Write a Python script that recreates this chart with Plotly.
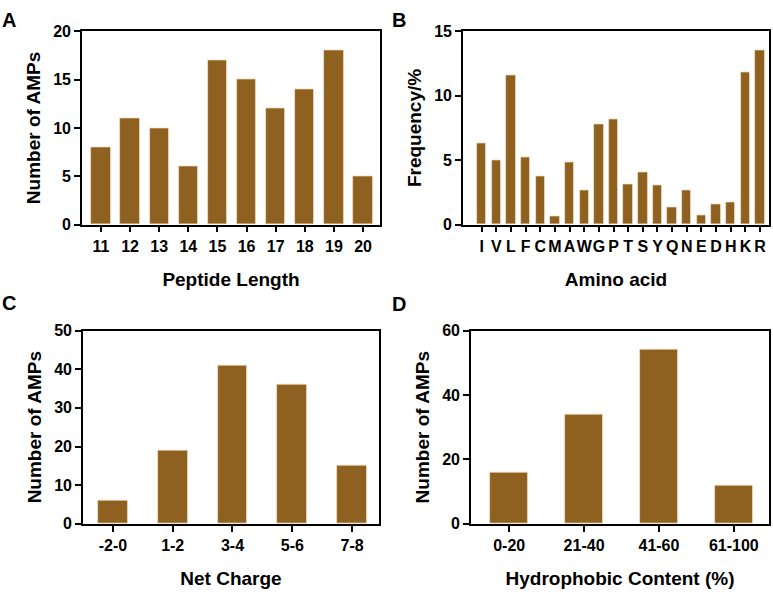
import plotly.graph_objects as go

# Panel A
lengths = ["11", "12", "13", "14", "15", "16", "17", "18", "19", "20"]
length_counts = [8, 11, 10, 6, 17, 15, 12, 14, 18, 5]

# Panel B
amino_acids = ["I", "V", "L", "F", "C", "M", "A", "W", "G", "P",
               "T", "S", "Y", "Q", "N", "E", "D", "H", "K", "R"]
aa_freq = [6.3, 5.0, 11.55, 5.25, 3.75, 0.65, 4.85, 2.65, 7.75, 8.15,
           3.15, 4.05, 3.05, 1.35, 2.65, 0.75, 1.55, 1.75, 11.85, 13.5]

# Panel C
charges = ["-2-0", "1-2", "3-4", "5-6", "7-8"]
charge_counts = [6, 19, 41, 36, 15]

# Panel D
hydro = ["0-20", "21-40", "41-60", "61-100"]
hydro_counts = [16, 34, 54, 12]

BAR = "#8F6120"
EDGE = "#F2E2C4"
W, H = 773, 596
FONT = "Liberation Sans, Arial, sans-serif"

fig = go.Figure()

panels = [
    (lengths, length_counts, 0.66, "x", "y"),
    (amino_acids, aa_freq, 0.64, "x2", "y2"),
    (charges, charge_counts, 0.5, "x3", "y3"),
    (hydro, hydro_counts, 0.5, "x4", "y4"),
]
for cats, vals, wd, xa, ya in panels:
    fig.add_trace(go.Bar(x=cats, y=vals, width=wd, xaxis=xa, yaxis=ya,
                         marker=dict(color=BAR, line=dict(color=EDGE, width=0.8)),
                         showlegend=False))

def px_x(a, b):
    return [a / W, b / W]

def px_y(top, bottom):
    return [1 - bottom / H, 1 - top / H]

axis_common = dict(
    showline=True, linecolor="black", linewidth=1.6, mirror=True,
    ticks="outside", ticklen=6, tickwidth=1.6, tickcolor="black",
    showgrid=False, zeroline=False,
    tickfont=dict(family=FONT, size=16, color="black", weight="bold"),
)

def xaxis(domain, rng, title, anchor):
    d = dict(axis_common)
    d.update(domain=domain, range=rng, anchor=anchor, type="category",
             tickmode="linear", dtick=1, tickangle=0,
             title=dict(text=title, standoff=19,
                        font=dict(family=FONT, size=19, color="black", weight="bold")))
    return d

def yaxis(domain, rng, dtick, title, anchor):
    d = dict(axis_common)
    d.update(domain=domain, range=rng, dtick=dtick, anchor=anchor,
             title=dict(text=title, standoff=8,
                        font=dict(family=FONT, size=19, color="black", weight="bold")))
    return d

fig.update_layout(
    width=W, height=H,
    margin=dict(l=0, r=0, t=0, b=0),
    paper_bgcolor="white", plot_bgcolor="white",
    font=dict(family=FONT, color="black"),
    bargap=0,
    xaxis=xaxis(px_x(82, 380), [-0.65, 9.58], "Peptide Length", "y"),
    yaxis=yaxis(px_y(24, 223), [0, 20], 5, "Number of AMPs", "x"),
    xaxis2=xaxis(px_x(463, 769), [-1.27, 19.61], "Amino acid", "y2"),
    yaxis2=yaxis(px_y(24, 223), [0, 15], 5, "Frequency/%", "x2"),
    xaxis3=xaxis(px_x(83, 379), [-0.5, 4.45], "Net Charge", "y3"),
    yaxis3=yaxis(px_y(332, 531), [0, 50], 10, "Number of AMPs", "x3"),
    xaxis4=xaxis(px_x(471, 769), [-0.51, 3.47], "Hydrophobic Content (%)", "y4"),
    yaxis4=yaxis(px_y(332, 531), [0, 60], 20, "Number of AMPs", "x4"),
)

for letter, x, y in [("A", 9, 12), ("B", 399, 12), ("C", 9, 304), ("D", 399, 305)]:
    fig.add_annotation(text=letter, x=x / W, y=1 - y / H, xref="paper", yref="paper",
                       showarrow=False, xanchor="center", yanchor="middle",
                       font=dict(family=FONT, size=20, color="black", weight="bold"))

fig.write_html("out.html")
